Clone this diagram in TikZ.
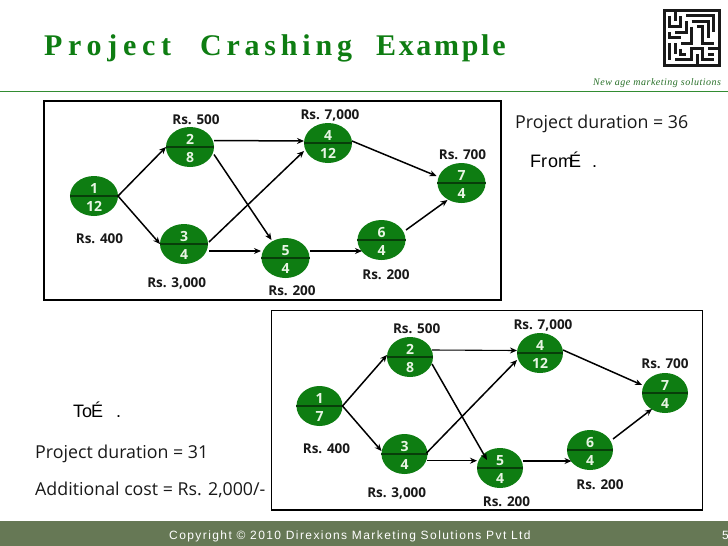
\documentclass[tikz,border=0pt]{standalone}
\usepackage{fontspec}
\setmainfont{Open Sans}
\newfontfamily\titlefont{Liberation Serif}
\newfontfamily\armfont{Liberation Sans}
\usetikzlibrary{shapes.geometric,arrows.meta}
\definecolor{nodegreen}{RGB}{14,125,18}
\definecolor{nodeline}{RGB}{8,62,10}
\definecolor{nodetext}{RGB}{232,245,228}
\definecolor{rulegreen}{RGB}{50,140,50}
\definecolor{barcol}{RGB}{102,120,85}
\definecolor{inkcol}{RGB}{25,25,25}
\newcommand{\evtxt}[2]{\raisebox{-6.75pt}[0pt][0pt]{\begin{tabular}[c]{@{}c@{}}#1\\#2\end{tabular}}}
\tikzset{
  x=1pt,y=-1pt,
  evt/.style={ellipse,fill=nodegreen,inner sep=0pt,minimum width=48pt,minimum height=40pt,
    text=nodetext,font=\fontsize{14}{18}\selectfont\bfseries},
  evtb/.style={evt,minimum width=46pt},
  edge/.style={draw=black,line width=1.5pt,-{Stealth[length=7pt,width=6pt]}},
  divider/.style={draw=nodeline,line width=1.2pt},
  cost/.style={inner sep=0pt,font=\fontsize{13.5}{15}\selectfont\bfseries,text=inkcol},
  body/.style={inner sep=0pt,anchor=west,font=\fontsize{17.8}{20}\selectfont,text=inkcol},
  panel/.style={draw=black,fill=white},
  wall/.style={draw=inkcol,line width=3pt,line cap=square,line join=miter},
}
\begin{document}
\begin{tikzpicture}
\useasboundingbox (0,0) rectangle (728,546);
\fill[white] (0,0) rectangle (728,546);
% header
\draw[draw=rulegreen,line width=1pt] (0,91) -- (728,91);
\node[inner sep=0pt,anchor=base west,text=nodegreen] (title) at (44,55)
  {\titlefont\bfseries\fontsize{30}{32}\selectfont
   {\addfontfeature{LetterSpace=19}Project}\hspace{29pt}{\addfontfeature{LetterSpace=16}Crashing}\hspace{24pt}{\addfontfeature{LetterSpace=9}Example}};
\node[inner sep=0pt,anchor=base west,text=rulegreen!80!black] (tag) at (593,85)
  {\titlefont\itshape\fontsize{10}{12}\selectfont\addfontfeature{LetterSpace=5}New age marketing solutions};
% maze logo
\begin{scope}[shift={(664,10)},x=5.5pt,y=-5.5pt]
\draw[wall] (0,0) rectangle (10,10);
\draw[wall] (2,0) -- (2,2);
\draw[wall] (1,1) -- (1,3) -- (3,3) -- (3,1);
\draw[wall] (4,2) -- (4,4) -- (2,4);
\draw[wall] (4,1) -- (9,1) -- (9,4);
\draw[wall] (5,2) -- (8,2) -- (8,5);
\draw[wall] (5,3) -- (5,6) -- (3,6);
\draw[wall] (1,4) -- (1,5) -- (3,5);
\draw[wall] (6,3) -- (7,3) -- (7,6) -- (9,6);
\draw[wall] (1,6) -- (1,9);
\draw[wall] (2,6) -- (2,8);
\draw[wall] (3,7) -- (3,8) -- (4,8);
\draw[wall] (2,9) -- (5,9) -- (5,7) -- (7,7) -- (7,9) -- (9,9);
\draw[wall] (6,8) -- (6,10);
\draw[wall] (8,7) -- (10,7);
\draw[wall] (8,8) -- (9,8);
\end{scope}
% footer
\fill[barcol] (0,521) rectangle (728,546);
\node[inner sep=0pt,anchor=base west,text=white] (foot) at (169,539)
  {\armfont\fontsize{12}{13}\selectfont\addfontfeature{LetterSpace=11.8}Copyright © 2010 Direxions Marketing Solutions Pvt Ltd};
\node[inner sep=0pt,anchor=base west,text=white] (pg) at (722,539)
  {\armfont\fontsize{12}{13}\selectfont 5};
% panels
\draw[panel,line width=2pt] (43.5,101) rectangle (500.5,299.5);
\draw[panel,line width=1.6pt] (271.5,310.5) rectangle (702.5,510);
% side texts
\node[body] (d36) at (515,124) {Project duration = 36};
\node[inner sep=0pt,anchor=base west,text=black] (fr) at (530,167)
  {\armfont\fontsize{18}{20}\selectfont Fr\kern1pt om\kern-4pt É\kern11pt .};
\node[inner sep=0pt,anchor=base west,text=black] (tt) at (73,417)
  {\armfont\fontsize{18}{20}\selectfont To\kern-1pt É\kern13pt .};
\node[body] (d31) at (35,454) {Project duration = 31};
\node[body] (add) at (35,490) {Additional cost = Rs. 2,000/-};
% top network
\node[evt] (a1) at (94,196) {\evtxt{1}{12}};
\node[evt] (a2) at (190,147) {\evtxt{2}{8}};
\node[evt] (a3) at (184,244) {\evtxt{3}{4}};
\node[evt] (a4) at (328,143) {\evtxt{4}{12}};
\node[evt] (a5) at (285.5,258) {\evtxt{5}{4}};
\node[evt] (a6) at (381.5,240) {\evtxt{6}{4}};
\node[evt] (a7) at (461.5,183) {\evtxt{7}{4}};
\foreach \n in {a1,a2,a3,a4,a5,a6,a7} \draw[divider] (\n.west) -- (\n.east);
\draw[edge] ([shift={(24,0)}]a1.center) -- ([shift={(-24,0)}]a2.center);
\draw[edge] ([shift={(24,0)}]a1.center) -- ([shift={(-24,0)}]a3.center);
\draw[edge] ([shift={(24,-6.5)}]a2.center) -- ([shift={(-24,-2)}]a4.center);
\draw[edge] ([shift={(24,7.5)}]a2.center) -- ([shift={(-14,-18)}]a5.center);
\draw[edge] ([shift={(25,-2)}]a3.center) -- ([shift={(-24,8)}]a4.center);
\draw[edge] ([shift={(25,7)}]a3.center) -- ([shift={(-24.5,-7)}]a5.center);
\draw[edge] ([shift={(24,-2)}]a4.center) -- ([shift={(-25,-7)}]a7.center);
\draw[edge] ([shift={(24.5,-7)}]a5.center) -- ([shift={(-19.5,11)}]a6.center);
\draw[edge] ([shift={(24.5,-10)}]a6.center) -- ([shift={(-14,17)}]a7.center);
\node[cost] (ca2) at (196,120) {Rs. 500};
\node[cost] (ca1) at (99.5,239) {Rs. 400};
\node[cost] (ca3) at (176.7,283) {Rs. 3,000};
\node[cost] (ca4) at (330,115.7) {Rs. 7,000};
\node[cost] (ca7) at (462.5,154.7) {Rs. 700};
\node[cost] (ca6) at (386,274.7) {Rs. 200};
\node[cost] (ca5) at (292,291) {Rs. 200};
% bottom network
\node[evtb] (b1) at (319.5,406) {\evtxt{1}{7}};
\node[evtb] (b2) at (410,357) {\evtxt{2}{8}};
\node[evtb] (b3) at (404.5,454) {\evtxt{3}{4}};
\node[evtb] (b4) at (540,353) {\evtxt{4}{12}};
\node[evtb] (b5) at (500,468) {\evtxt{5}{4}};
\node[evtb] (b6) at (590,450) {\evtxt{6}{4}};
\node[evtb] (b7) at (665,393) {\evtxt{7}{4}};
\foreach \n in {b1,b2,b3,b4,b5,b6,b7} \draw[divider] (\n.west) -- (\n.east);
\draw[edge] ([shift={(23,0)}]b1.center) -- ([shift={(-23,-2)}]b2.center);
\draw[edge] ([shift={(23,0)}]b1.center) -- ([shift={(-23,-3)}]b3.center);
\draw[edge,line width=1.1pt] ([shift={(22,-7)}]b2.center) -- ([shift={(-23,-2.5)}]b4.center);
\draw[edge] ([shift={(22,7)}]b2.center) -- ([shift={(-13,-8)}]b5.center);
\draw[edge] ([shift={(22,-1)}]b3.center) -- ([shift={(-23,7)}]b4.center);
\draw[edge] ([shift={(22.5,6.7)}]b3.center) -- ([shift={(-23,-7.3)}]b5.center);
\draw[edge] ([shift={(23,-3)}]b4.center) -- ([shift={(-23,-8)}]b7.center);
\draw[edge] ([shift={(23,-7)}]b5.center) -- ([shift={(-18.5,11)}]b6.center);
\draw[edge] ([shift={(23,-11)}]b6.center) -- ([shift={(-13,16)}]b7.center);
\node[cost] (cb2) at (416.7,329) {Rs. 500};
\node[cost] (cb1) at (326.5,449) {Rs. 400};
\node[cost] (cb3) at (396.7,493) {Rs. 3,000};
\node[cost] (cb5) at (506.5,501.7) {Rs. 200};
\node[cost] (cb4) at (543,325) {Rs. 7,000};
\node[cost] (cb7) at (665,364) {Rs. 700};
\node[cost] (cb6) at (600,485) {Rs. 200};
\end{tikzpicture}
\end{document}
